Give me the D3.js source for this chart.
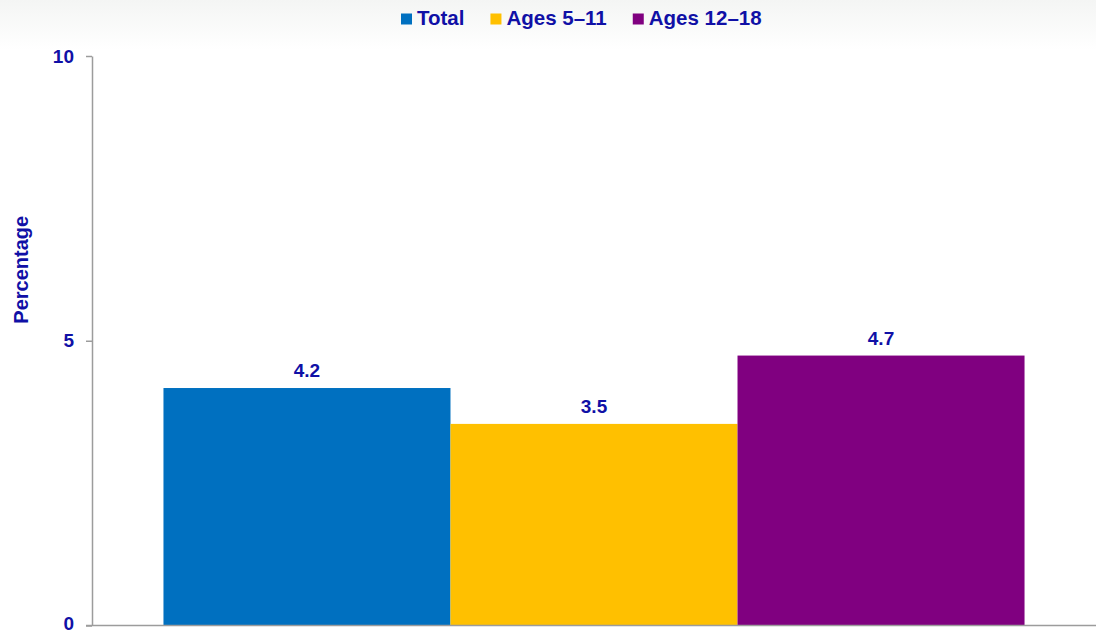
<!DOCTYPE html>
<html>
<head>
<meta charset="utf-8">
<script src="https://cdnjs.cloudflare.com/ajax/libs/d3/7.8.5/d3.min.js"></script>
<style>
    html, body { margin: 0; padding: 0; background: #fff; }
    svg { display: block; font-family: "Liberation Sans", Arial, sans-serif; }
</style>
</head>
<body>
<div id="chart"></div>
<script>
// data
const categories = ['All'];
const seriesNames = ['Total', 'Ages 5\u201311', 'Ages 12\u201318'];
const seriesValues = [4.17, 3.54, 4.74];
const seriesColors = ['#0070c0', '#ffc000', '#800080'];
const yTicks = [0, 5, 10];
const yTitle = 'Percentage';

const width = 1096, height = 634;
const margin = { top: 56, right: 0, bottom: 8.5, left: 92 };
const textColor = '#1010a6';
const axisColor = '#9c9c9c';

const svg = d3.select('#chart').append('svg')
    .attr('width', width)
    .attr('height', height);

// faint grey wash at the top
const grad = svg.append('defs').append('linearGradient')
    .attr('id', 'topwash')
    .attr('x1', 0).attr('y1', 0).attr('x2', 0).attr('y2', 1);
grad.append('stop').attr('offset', '0%').attr('stop-color', '#f4f5f4');
grad.append('stop').attr('offset', '100%').attr('stop-color', '#ffffff');
svg.append('rect')
    .attr('width', width).attr('height', 50)
    .attr('fill', 'url(#topwash)');

const y = d3.scaleLinear()
    .domain([0, 10])
    .range([height - margin.bottom, margin.top]);

const x0 = d3.scaleBand()
    .domain(categories)
    .range([margin.left, width - margin.right])
    .paddingInner(0)
    .paddingOuter(0.083);

const x1 = d3.scaleBand()
    .domain(seriesNames)
    .range([0, x0.bandwidth()])
    .padding(0);

// bars
const group = svg.append('g')
    .attr('transform', `translate(${x0(categories[0])},0)`);

const barData = seriesNames.map((name, i) => ({ name, value: seriesValues[i], color: seriesColors[i] }));

group.selectAll('.bar')
    .data(barData)
    .enter().append('rect')
    .attr('class', 'bar')
    .attr('x', d => x1(d.name))
    .attr('y', d => y(d.value))
    .attr('width', x1.bandwidth())
    .attr('height', d => y(0) - y(d.value))
    .attr('fill', d => d.color);

group.selectAll('.bar-label')
    .data(barData)
    .enter().append('text')
    .attr('class', 'bar-label')
    .attr('x', d => x1(d.name) + x1.bandwidth() / 2)
    .attr('y', d => y(d.value) - 11)
    .attr('text-anchor', 'middle')
    .style('fill', textColor)
    .style('font-size', '19px')
    .style('font-weight', 'bold')
    .text(d => d3.format('.1f')(d.value));

// y axis
const yAxis = svg.append('g')
    .attr('transform', `translate(${margin.left},0)`)
    .call(d3.axisLeft(y).tickValues(yTicks).tickSize(6).tickPadding(12).tickSizeOuter(0));
yAxis.select('.domain').attr('stroke', axisColor).attr('stroke-width', 1.5);
yAxis.selectAll('.tick line').attr('stroke', axisColor).attr('stroke-width', 1.5);
yAxis.selectAll('.tick text')
    .attr('dy', d => d === 0 ? '0.22em' : '0.32em')
    .style('fill', textColor)
    .style('font-size', '19px')
    .style('font-weight', 'bold')
    .style('font-family', '"Liberation Sans", Arial, sans-serif');

// baseline
svg.append('line')
    .attr('x1', margin.left - 6)
    .attr('x2', width)
    .attr('y1', y(0))
    .attr('y2', y(0))
    .attr('stroke', axisColor)
    .attr('stroke-width', 1.5);

svg.append('text')
    .attr('transform', `translate(28,${(y(0) + y(10)) / 2 - 71}) rotate(-90)`)
    .attr('text-anchor', 'middle')
    .style('fill', textColor)
    .style('font-size', '20px')
    .style('font-weight', 'bold')
    .text(yTitle);

// legend
const legend = svg.append('g').attr('class', 'legend');
let lx = 401;
barData.forEach(d => {
    legend.append('rect')
        .attr('x', lx).attr('y', 13.5)
        .attr('width', 11).attr('height', 11)
        .attr('fill', d.color);
    const t = legend.append('text')
        .attr('x', lx + 16).attr('y', 25)
        .style('fill', textColor)
        .style('font-size', '20.5px')
        .style('font-weight', 'bold')
        .text(d.name);
    lx += 16 + t.node().getComputedTextLength() + 26;
});
</script>
</body>
</html>
